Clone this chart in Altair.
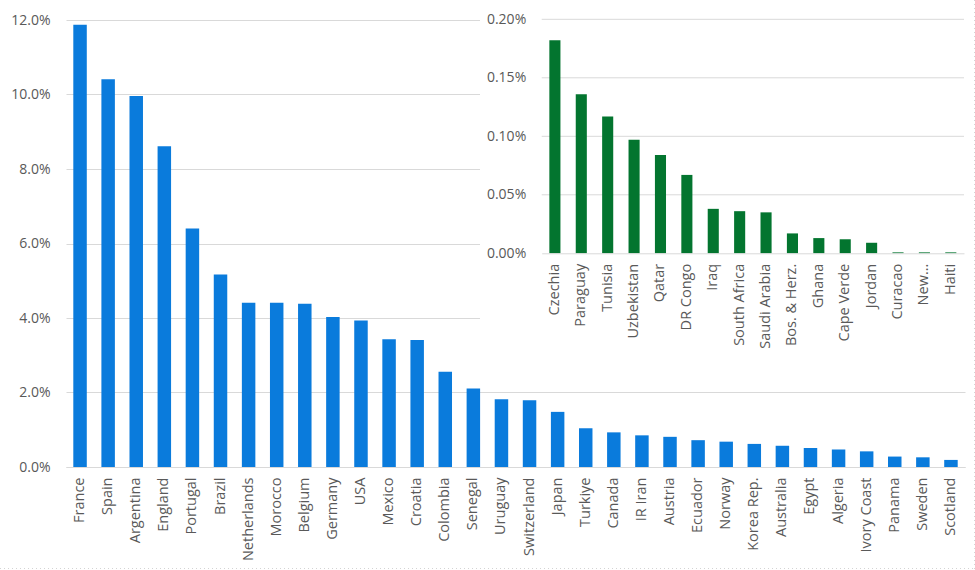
import altair as alt
import pandas as pd

# Main field: shares of the 32 leading teams (percent)
main_countries = [
    "France", "Spain", "Argentina", "England", "Portugal", "Brazil",
    "Netherlands", "Morocco", "Belgium", "Germany", "USA", "Mexico",
    "Croatia", "Colombia", "Senegal", "Uruguay", "Switzerland", "Japan",
    "Turkiye", "Canada", "IR Iran", "Austria", "Ecuador", "Norway",
    "Korea Rep.", "Australia", "Egypt", "Algeria", "Ivory Coast", "Panama",
    "Sweden", "Scotland",
]
main_pct = [
    11.87, 10.41, 9.96, 8.61, 6.40, 5.17,
    4.41, 4.41, 4.38, 4.03, 3.93, 3.43,
    3.41, 2.56, 2.11, 1.82, 1.79, 1.48,
    1.04, 0.93, 0.85, 0.81, 0.72, 0.68,
    0.62, 0.57, 0.51, 0.47, 0.42, 0.28,
    0.26, 0.19,
]

# Remaining 16 teams, shown in the inset (percent)
inset_countries = [
    "Czechia", "Paraguay", "Tunisia", "Uzbekistan", "Qatar", "DR Congo",
    "Iraq", "South Africa", "Saudi Arabia", "Bos. & Herz.", "Ghana",
    "Cape Verde", "Jordan", "Curacao", "New Zealand", "Haiti",
]
inset_pct = [
    0.182, 0.136, 0.117, 0.097, 0.084, 0.067,
    0.038, 0.036, 0.035, 0.017, 0.013,
    0.012, 0.009, 0.0008, 0.0008, 0.0008,
]

main_ticks = [0.0, 0.02, 0.04, 0.06, 0.08, 0.10, 0.12]
inset_ticks = [0.0, 0.0005, 0.001, 0.0015, 0.002]

FONT = "Open Sans"
LABEL = "#595959"
GRID = "#d9d9d9"
BLUE = "#0a7bdc"
GREEN = "#03752f"

W, H = 899, 447
# inset plot box inside the main plot area (pixels)
IN_X0, IN_X1 = 475.7, 898
IN_Y0, IN_Y1 = 233.3, -0.7

main_df = pd.DataFrame({"country": main_countries, "share": [v / 100 for v in main_pct]})
inset_df = pd.DataFrame({"country": inset_countries, "share": [v / 100 for v in inset_pct]})
inset_grid_df = pd.DataFrame({"share": inset_ticks[1:]})

cat_style = dict(labelFont=FONT, labelFontSize=14.5, labelColor=LABEL)
num_style = dict(labelFont=FONT, labelFontSize=14, labelColor=LABEL)

main_bars = alt.Chart(main_df).mark_bar(color=BLUE).encode(
    x=alt.X(
        "country:N", sort=main_countries, title=None,
        scale=alt.Scale(paddingInner=0.52, paddingOuter=0.26),
        axis=alt.Axis(labelAngle=270, labelPadding=10, ticks=False, tickSize=0,
                      domainColor=GRID, domainWidth=1, grid=False, **cat_style),
    ),
    y=alt.Y(
        "share:Q", title=None,
        scale=alt.Scale(domain=[0, 0.12], nice=False),
        axis=alt.Axis(values=main_ticks, format=".1%", grid=True, gridColor=GRID,
                      domain=False, ticks=False, tickSize=0, labelPadding=16,
                      **num_style),
    ),
)

# white panel behind the inset
panel = alt.Chart(pd.DataFrame({"k": [0]})).mark_rect(color="white").encode(
    x=alt.value(414), x2=alt.value(915), y=alt.value(-20), y2=alt.value(340)
)

# faint dotted edges on the right and bottom of the chart area
edge_style = dict(color="#d4d4d4", strokeWidth=1, strokeDash=[1, 3])
edge_right = alt.Chart(pd.DataFrame({"k": [0]})).mark_rule(**edge_style).encode(
    x=alt.value(908.5), y=alt.value(-20), y2=alt.value(549)
)
edge_bottom = alt.Chart(pd.DataFrame({"k": [0]})).mark_rule(**edge_style).encode(
    x=alt.value(-66), x2=alt.value(909), y=alt.value(548.5)
)

inset_y_scale = alt.Scale(domain=[0, 0.002], range=[IN_Y0, IN_Y1], nice=False)

inset_grid = alt.Chart(inset_grid_df).mark_rule(color=GRID, strokeWidth=1).encode(
    y=alt.Y("share:Q", scale=inset_y_scale, axis=None),
    x=alt.value(IN_X0), x2=alt.value(IN_X1),
)

inset_bars = alt.Chart(inset_df).mark_bar(color=GREEN).encode(
    x=alt.X(
        "country:N", sort=inset_countries, title=None,
        scale=alt.Scale(range=[IN_X0, IN_X1], paddingInner=0.58, paddingOuter=0.29),
        axis=alt.Axis(orient="bottom", offset=IN_Y0 - H, zindex=1, labelAngle=270,
                      labelPadding=10, ticks=False, tickSize=0, domainColor=GRID,
                      grid=False,
                      labelExpr="datum.value == 'New Zealand' ? 'New…' : datum.value",
                      **cat_style),
    ),
    y=alt.Y(
        "share:Q", title=None, scale=inset_y_scale,
        axis=alt.Axis(orient="left", offset=-IN_X0, zindex=1, values=inset_ticks,
                      format=".2%", grid=False, domain=False, ticks=False, tickSize=0,
                      labelPadding=16, **num_style),
    ),
)

chart = (
    alt.layer(main_bars, panel, inset_grid, inset_bars, edge_right, edge_bottom)
    .resolve_scale(x="independent", y="independent")
    .resolve_axis(x="independent", y="independent")
    .properties(
        width=W, height=H,
        autosize=alt.AutoSizeParams(type="none"),
        padding={"left": 66, "top": 20, "right": 10, "bottom": 103},
        background="white",
    )
    .configure_view(stroke=None)
)

chart.save("out.html", embed_options={"renderer": "svg", "actions": False})
